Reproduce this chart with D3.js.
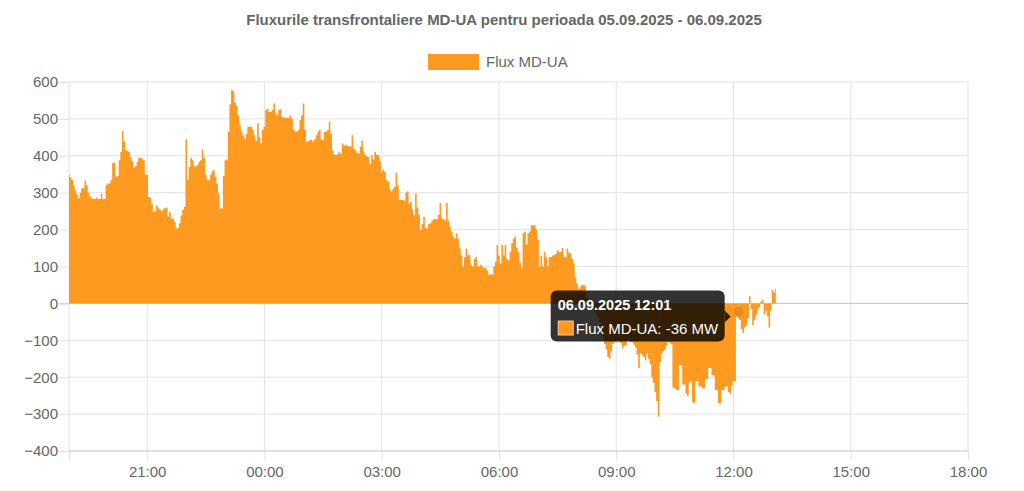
<!DOCTYPE html>
<html>
<head>
<meta charset="utf-8">
<script src="https://cdn.jsdelivr.net/npm/d3@7"></script>
<style>
    html, body { margin: 0; padding: 0; background: #fff; }
    svg { display: block; font-family: "Liberation Sans", Arial, sans-serif; }
</style>
</head>
<body>
<div id="chart"></div>
<script>
// ==================== data ====================
const chartTitle = "Fluxurile transfrontaliere MD-UA pentru perioada 05.09.2025 - 06.09.2025";
const seriesName = "Flux MD-UA";
const startTime = "2025-09-05T19:00";
const endTime = "2025-09-06T18:00";
const stepMinutes = 2.5;

// MW, one reading every 2.5 minutes from 19:00
const fluxValues = [
    348, 342, 335, 320, 305, 295, 285, 300,
    312, 312, 333, 320, 300, 290, 285, 283,
    283, 287, 283, 283,
    298, 283, 283, 320, 325, 325, 335, 381,
    381, 343, 345, 388, 410, 467, 438, 415,
    413, 410, 397, 385, 368, 372, 384, 395,
    395, 392, 388, 350, 348, 289, 287, 270,
    248, 250, 265, 258, 253, 250, 255, 258,
    260, 235, 248, 230, 230, 222, 203, 205,
    217, 238, 253, 262, 444, 335, 370, 395,
    388, 372, 370, 375, 384, 388, 417, 395,
    348, 335, 334, 348, 358, 362, 343, 325,
    298, 257, 257, 345, 388, 390, 465, 540,
    578, 575, 545, 535, 510, 483, 465, 456,
    447, 460, 479, 479, 479, 470, 456, 440,
    488, 450, 434, 470, 479, 524, 528, 519,
    519, 525, 542, 515, 510, 525, 526, 505,
    504, 503, 503, 503, 510, 500, 470, 465,
    465, 470, 497, 510, 542, 470, 438, 440,
    443, 443, 438, 445, 456, 465, 470, 445,
    443, 465, 465, 470, 492, 460, 415, 402,
    402, 405, 411, 405, 433, 428, 429, 427,
    426, 425, 456, 420, 415, 408, 406, 425,
    441, 410, 402, 398, 397, 378, 402, 390,
    411, 402, 402, 385, 357, 362, 357, 335,
    330, 310, 303, 310, 316, 354, 320, 280,
    280, 280, 278, 300, 303, 270, 275, 255,
    239, 298, 260, 240, 199, 215, 235, 205,
    203, 215, 217, 225, 228, 228, 228, 240,
    273, 230, 228, 225, 273, 225, 208, 195,
    181, 175, 190, 175, 149, 130, 99, 125,
    149, 130, 131, 105, 99, 120, 126, 100,
    99, 105, 99, 95, 95, 88, 77, 80,
    77, 100, 113, 158, 130, 108, 158, 130,
    158, 120, 117, 140, 163, 175, 181, 150,
    140, 110, 95, 190, 194, 160, 190, 195,
    212, 212, 212, 200, 172, 99, 130, 99,
    140, 125, 99, 125, 126, 130, 131, 135,
    145, 140, 140, 150, 126, 125, 149, 138,
    135, 120, 108, 70, 54, 40, 45, 50,
    50, 48, 15, 12, 5, -2, -10, -20,
    -30, -40, -50, -70, -90, -110, -125, -145,
    -150, -130, -110, -105, -105, -100, -105, -108,
    -122, -115, -115, -100, -100, -105, -105, -112,
    -120, -140, -176, -135, -140, -145, -155, -135,
    -150, -165, -200, -215, -240, -265, -307, -160,
    -135, -130, -125, -115, -105, -108, -110, -228,
    -230, -235, -235, -167, -167, -220, -220, -245,
    -251, -215, -210, -268, -270, -210, -210, -225,
    -225, -230, -230, -205, -205, -175, -175, -195,
    -195, -235, -235, -270, -270, -235, -235, -225,
    -225, -240, -245, -225, -210, -210, -36, -40,
    -45, -70, -80, -65, -60, -40, 20, -15,
    -60, -45, -30, -15, -10, 5, 10, -30,
    -20, -35, -65, -20, 36, 30, 40
];

const yTicks = [600, 500, 400, 300, 200, 100, 0, -100, -200, -300, -400];
const xTickTimes = ["2025-09-05T21:00", "2025-09-06T00:00", "2025-09-06T03:00", "2025-09-06T06:00",
    "2025-09-06T09:00", "2025-09-06T12:00", "2025-09-06T15:00", "2025-09-06T18:00"];

const tooltipTitle = "06.09.2025 12:01";
const tooltipBody = "Flux MD-UA: -36 MW";
const hoverTime = "2025-09-06T12:08";
const hoverValue = -22;

// ==================== config ====================
const CONFIG = {
    width: 1024,
    height: 491,
    plot: { left: 69, right: 968, top: 82, bottom: 451 },
    color: "#ff9a21",
    grid: "#e2e2e2",
    axisLine: "#c4c4c4",
    text: "#666"
};

const svg = d3.select("#chart").append("svg")
    .attr("width", CONFIG.width)
    .attr("height", CONFIG.height);

const parseTime = d3.timeParse("%Y-%m-%dT%H:%M");
const start = parseTime(startTime);

const x = d3.scaleTime()
    .domain([start, parseTime(endTime)])
    .range([CONFIG.plot.left, CONFIG.plot.right]);

const y = d3.scaleLinear()
    .domain([-400, 600])
    .range([CONFIG.plot.bottom, CONFIG.plot.top]);

const points = fluxValues.map((v, i) => ({
    time: new Date(start.getTime() + i * stepMinutes * 60000),
    value: v
}));

// 网格 + 坐标轴
const xTicks = [start].concat(xTickTimes.map(parseTime));

const xAxis = svg.append("g")
    .attr("transform", `translate(0,${CONFIG.plot.bottom})`)
    .call(d3.axisBottom(x)
        .tickValues(xTicks)
        .tickSize(9)
        .tickPadding(6)
        .tickFormat((d, i) => i === 0 ? "" : d3.timeFormat("%H:%M")(d)));

const yAxis = svg.append("g")
    .attr("transform", `translate(${CONFIG.plot.left},0)`)
    .call(d3.axisLeft(y)
        .tickValues(yTicks)
        .tickSize(10)
        .tickPadding(1));

[xAxis, yAxis].forEach(axis => {
    axis.select(".domain").remove();
    axis.selectAll("line").attr("stroke", CONFIG.grid);
    axis.selectAll("text")
        .attr("fill", CONFIG.text)
        .style("font-size", "15px")
        .style("font-family", '"Liberation Sans", Arial, sans-serif');
});

yAxis.selectAll("line")
    .filter(d => d === 0)
    .attr("stroke", "#bdbdbd");

// 竖线
svg.append("g")
    .selectAll("line")
    .data(xTicks)
    .join("line")
    .attr("x1", d => x(d))
    .attr("x2", d => x(d))
    .attr("y1", CONFIG.plot.top)
    .attr("y2", CONFIG.plot.bottom)
    .attr("stroke", CONFIG.grid);

// 横线
svg.append("g")
    .selectAll("line")
    .data(yTicks)
    .join("line")
    .attr("x1", CONFIG.plot.left)
    .attr("x2", CONFIG.plot.right)
    .attr("y1", d => y(d))
    .attr("y2", d => y(d))
    .attr("stroke", d => (d === 0 || d === -400) ? CONFIG.axisLine : CONFIG.grid);

// 面积
const area = d3.area()
    .x(d => x(d.time))
    .y0(y(0))
    .y1(d => y(d.value))
    .curve(d3.curveStep);

svg.append("path")
    .datum(points)
    .attr("d", area)
    .attr("fill", CONFIG.color);

// 标题
svg.append("text")
    .attr("x", 504)
    .attr("y", 25)
    .attr("text-anchor", "middle")
    .attr("fill", CONFIG.text)
    .style("font-size", "15px")
    .style("font-weight", "bold")
    .text(chartTitle);

// 图例
svg.append("rect")
    .attr("x", 428)
    .attr("y", 54)
    .attr("width", 51)
    .attr("height", 16)
    .attr("fill", CONFIG.color);

svg.append("text")
    .attr("x", 486)
    .attr("y", 67)
    .attr("fill", CONFIG.text)
    .style("font-size", "15px")
    .text(seriesName);

// hover 点
const hx = x(parseTime(hoverTime));
const hy = y(hoverValue);

svg.append("circle")
    .attr("cx", hx)
    .attr("cy", hy)
    .attr("r", 5)
    .attr("fill", "#e58c20");

// tooltip
const tipRight = hx - 14;
const tipLeft = tipRight - 174;
const tipTop = hy - 21;
const tooltip = svg.append("g");

tooltip.append("rect")
    .attr("x", tipLeft)
    .attr("y", tipTop)
    .attr("width", 174)
    .attr("height", 51)
    .attr("rx", 6)
    .attr("fill", "#000")
    .attr("fill-opacity", 0.8);

tooltip.append("path")
    .attr("d", `M${tipRight},${hy - 1} l6,6 l-6,6 z`)
    .attr("fill", "#000")
    .attr("fill-opacity", 0.8);

tooltip.append("text")
    .attr("x", tipLeft + 7)
    .attr("y", tipTop + 19)
    .attr("fill", "#fff")
    .style("font-size", "14.5px")
    .style("font-weight", "bold")
    .text(tooltipTitle);

tooltip.append("rect")
    .attr("x", tipLeft + 7.5)
    .attr("y", tipTop + 30.5)
    .attr("width", 15)
    .attr("height", 14)
    .attr("fill", CONFIG.color)
    .attr("stroke", "#ffc98a");

tooltip.append("text")
    .attr("x", tipLeft + 25)
    .attr("y", tipTop + 43)
    .attr("fill", "#fff")
    .style("font-size", "15px")
    .text(tooltipBody);
</script>
</body>
</html>
